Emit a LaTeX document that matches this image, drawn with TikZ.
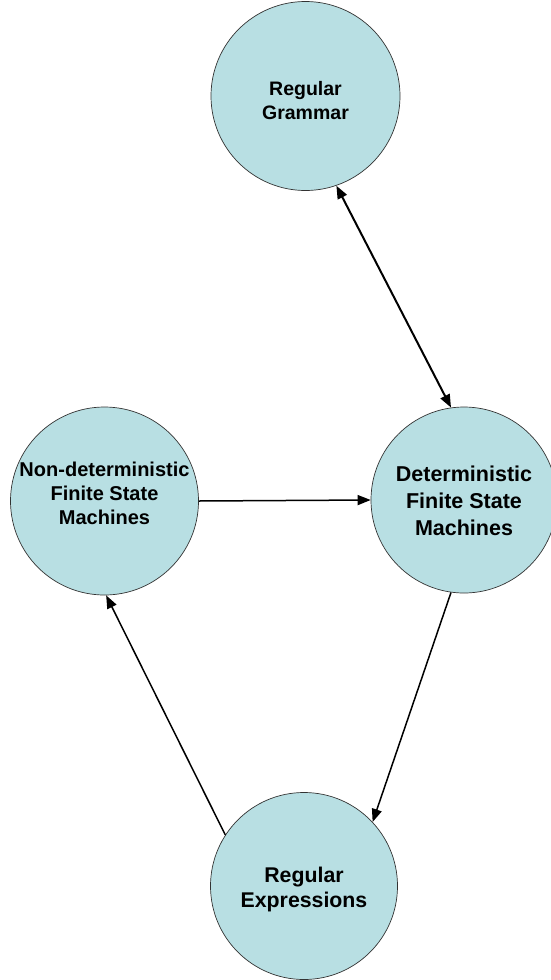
\documentclass[tikz,border=0pt]{standalone}
\usepackage{fontspec}
\setmainfont{Liberation Sans}
\usetikzlibrary{arrows.meta}
\definecolor{cfill}{HTML}{B8DFE3}
\begin{document}
\begin{tikzpicture}[x=1pt,y=-1pt,
  state/.style={circle,draw=black!80,line width=0.7pt,fill=cfill,inner sep=0pt},
  label/.style={align=center,inner sep=0pt},
  conn/.style={line width=1.5pt,-{Triangle[length=13pt,width=10pt]}},
  dconn/.style={line width=2pt,{Triangle[length=13pt,width=10pt]}-{Triangle[length=13pt,width=10pt]}}]
\useasboundingbox (0,0) rectangle (550,980);
\node[state,minimum size=189pt] (rg) at (305.5,96) {};
\node[label,font=\bfseries\fontsize{19.5}{24}\selectfont] (rgt) at (305.5,101) {Regular\\Grammar};
\node[state,minimum size=188pt] (nfa) at (104.5,501) {};
\node[label,font=\bfseries\fontsize{20}{24}\selectfont] (nfat) at (104.5,493) {Non-deterministic\\Finite State\\Machines};
\node[state,minimum size=186pt] (dfa) at (464,500) {};
\node[label,font=\bfseries\fontsize{21.5}{27}\selectfont] (dfat) at (464,501) {Deterministic\\Finite State\\Machines};
\node[state,minimum size=187pt] (re) at (304,886) {};
\node[label,font=\bfseries\fontsize{21.3}{25}\selectfont] (ret) at (304,889) {Regular\\Expressions};
\draw[dconn] (rg.-71.8) -- (dfa.98.4);
\draw[conn] (nfa.east) -- (dfa.west);
\draw[conn] (dfa.-98.7) -- (re.43);
\draw[conn] (re.147.7) -- (nfa.-89);
\end{tikzpicture}
\end{document}
